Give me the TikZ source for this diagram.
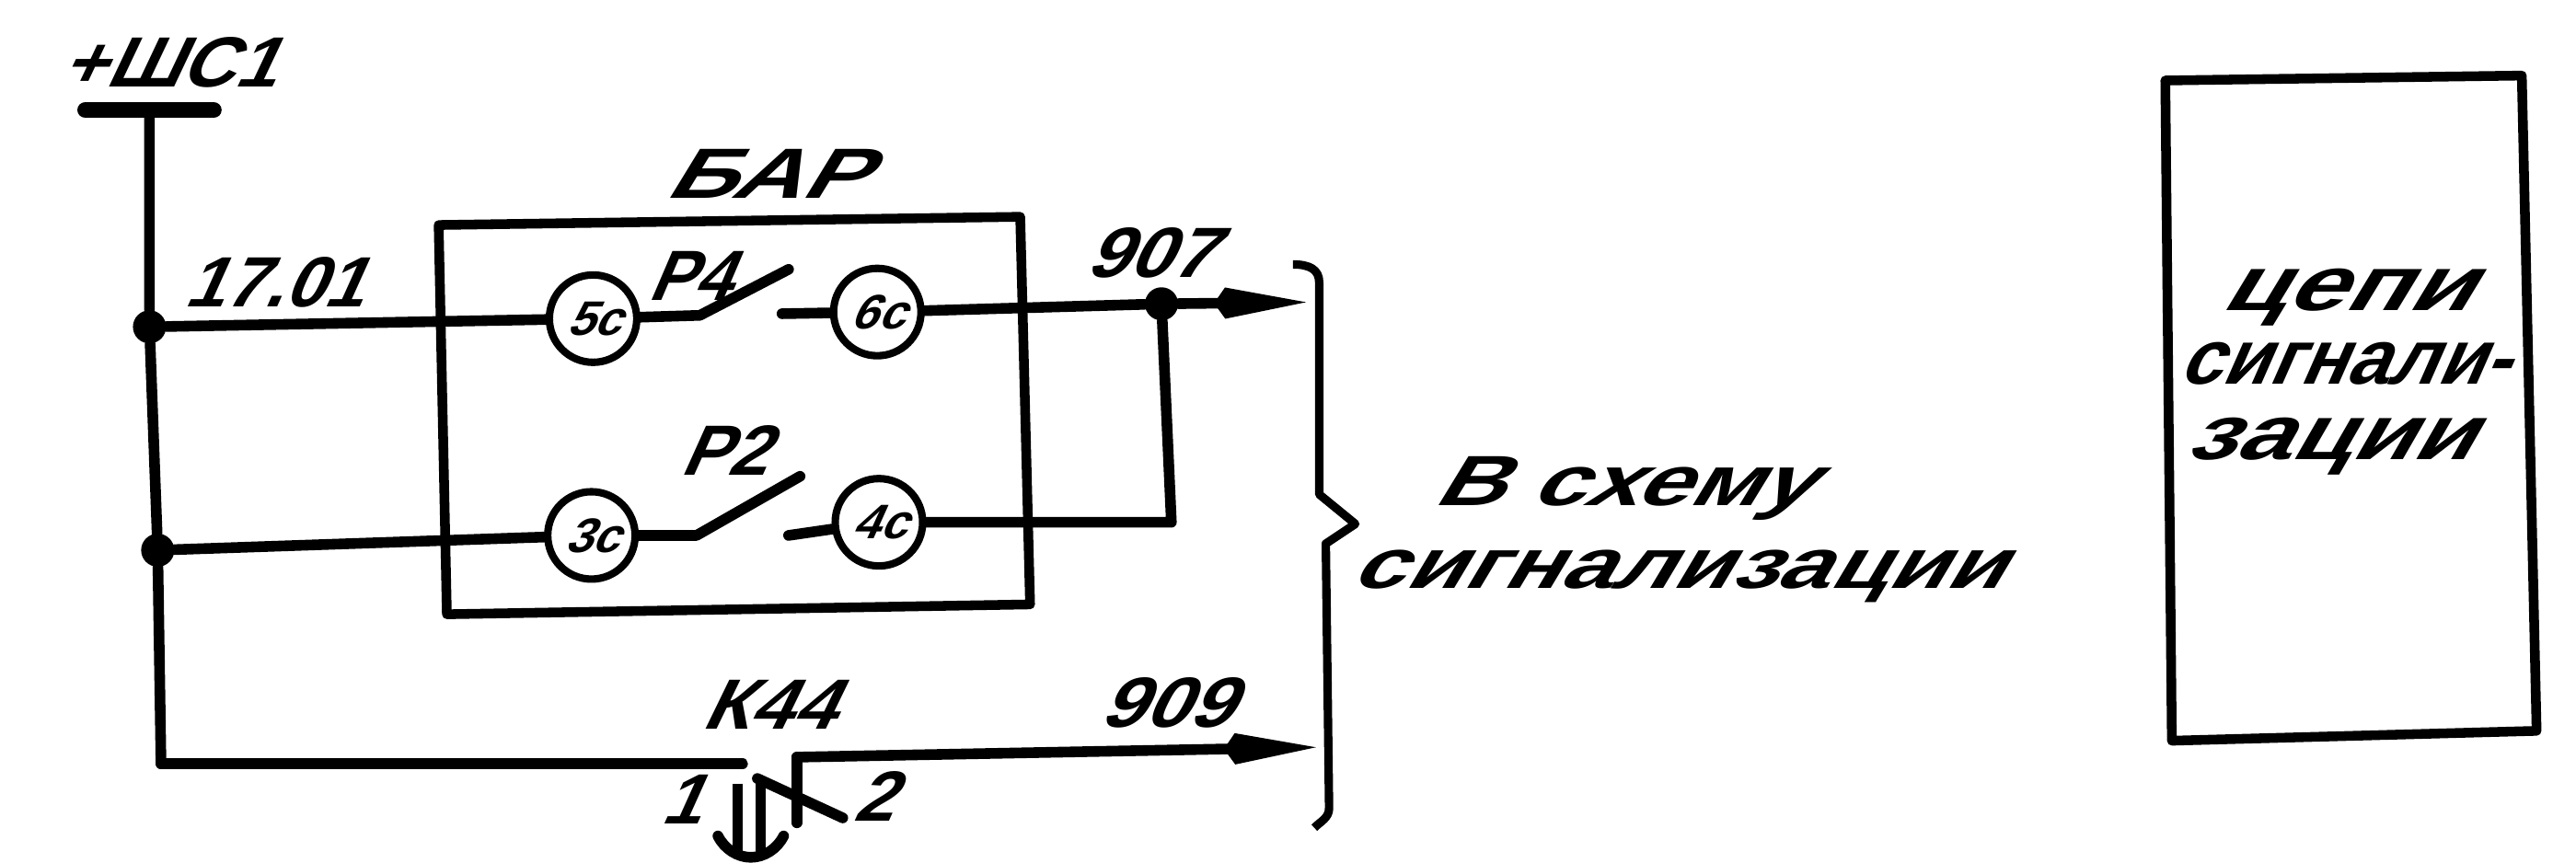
\documentclass[tikz,border=0pt]{standalone}
\usepackage{graphicx}
\usepackage{fontspec}
\setmainfont[FakeSlant=0.45]{Liberation Sans Bold}
\usetikzlibrary{arrows.meta}
\tikzstyle{wire}=[line width=3.3pt, line join=round, line cap=round]
\tikzstyle{frame}=[line width=3pt, line join=round]
\tikzstyle{sig}=[wire, -{Kite[length=1cm, width=0.34cm, inset=0.12cm]}]
\tikzstyle{pin}=[draw, circle, line width=2.3pt, minimum size=0.95cm, inner sep=0pt, font=\fontsize{15}{15}\selectfont]
\tikzstyle{joint}=[fill, circle, minimum size=0.36cm, inner sep=0pt]
\tikzstyle{lab}=[inner sep=0pt, font=\fontsize{22}{22}\selectfont]
\tikzstyle{note}=[inner sep=0pt, anchor=base, font=\fontsize{22}{22}\selectfont]
\tikzstyle{cell}=[note, font=\fontsize{24}{24}\selectfont]
\def\spread#1#2{\scalebox{#1}[1]{#2}}

\begin{document}
\begin{tikzpicture}[x=0.01785cm, y=-0.01785cm]
	\useasboundingbox (0,0) rectangle (1568,525);

	%bus and the two branches
	\coordinate (busl) at (52,67);
	\coordinate (busr) at (130,67);
	\coordinate (bus) at (91,67);
	\coordinate (low) at (98,465);
	\node (j1) [joint] at (91,199) {};
	\node (j2) [joint] at (96,335) {};
	\node (j3) [joint] at (707,185) {};
	\draw [line width=5pt, line cap=round] (busl) -- (busr);
	\draw [wire] (bus) -- (j1) -- (j2) -- (low);
	\node (shc) [lab] at (102,38) {\spread{1.05}{+ШС1}};

	%block
	\coordinate (b1) at (267,137);
	\coordinate (b2) at (621,132);
	\coordinate (b3) at (627,368);
	\coordinate (b4) at (272,374);
	\draw [frame] (b1) -- (b2) -- (b3) -- (b4) -- cycle;
	\node (bar) [lab] at (465,106) {\spread{1.36}{БАР}};

	\node (c5) [pin] at (361,194) {5с};
	\node (c6) [pin] at (534,190) {6с};
	\node (c3) [pin] at (360,326) {3с};
	\node (c4) [pin] at (535,318) {4с};

	%upper contact
	\coordinate (p4a) at (426,192);
	\coordinate (p4b) at (480,164);
	\coordinate (p4c) at (476,191);
	\draw [wire] (j1) -- (c5);
	\draw [wire] (c5) -- (p4a) -- (p4b);
	\draw [wire] (p4c) -- (c6);
	\draw [wire] (c6) -- (j3);
	\node (n1701) [lab] at (166,172) {17.01};
	\node (pf) [lab] at (419,168) {\spread{0.95}{Р4}};

	%lower contact
	\coordinate (p2a) at (424,326);
	\coordinate (p2b) at (487,290);
	\coordinate (p2c) at (480,326);
	\coordinate (ret) at (713,318);
	\draw [wire] (j2) -- (c3);
	\draw [wire] (c3) -- (p2a) -- (p2b);
	\draw [wire] (p2c) -- (c4);
	\draw [wire] (c4) -- (ret) -- (j3);
	\node (pt) [lab] at (440,274) {Р2};

	%outputs
	\coordinate (o1) at (795,184);
	\coordinate (k1) at (452,465);
	\coordinate (k2) at (485,461);
	\coordinate (o2) at (801,455);
	\draw [sig] (j3) -- (o1);
	\node (n907) [lab] at (699,154) {\spread{1.08}{907}};
	\draw [wire] (low) -- (k1);
	\draw [sig] (k2) -- (o2);
	\node (n909) [lab] at (709,428) {\spread{1.12}{909}};

	%contact of the relay
	\coordinate (k3) at (485,501);
	\coordinate (k4) at (461,474);
	\coordinate (k5) at (513,498);
	\coordinate (s1) at (449,477);
	\coordinate (s2) at (449,520);
	\coordinate (s3) at (463,474);
	\coordinate (s4) at (463,520);
	\draw [wire] (k3) -- (k2);
	\draw [wire] (k4) -- (k5);
	\draw [frame] (s1) -- (s2);
	\draw [frame] (s3) -- (s4);
	\draw [wire] (437,509) .. controls (441,517) and (449,522) .. (457,522)
		.. controls (465,522) and (473,517) .. (477,509);
	\node (k44) [lab] at (467,429) {\spread{1.08}{К44}};
	\node (k1l) [lab] at (414,487) {1};
	\node (k2l) [lab] at (531,485) {2};

	%brace
	\draw [line width=2.6pt, line join=round] (787,161) .. controls (797,161) and (803,164) .. (803,172)
		-- (803,301) -- (825,319) -- (807,331) -- (809,492) .. controls (809,498) and (804,500) .. (800,504);
	\node (to) [note] at (987,308) {\spread{1.36}{В схему}};
	\node (tob) [note] at (1020,358) {\spread{1.33}{сигнализации}};

	%right box
	\coordinate (r1) at (1318,49);
	\coordinate (r2) at (1535,46);
	\coordinate (r3) at (1544,445);
	\coordinate (r4) at (1322,451);
	\draw [frame] (r1) -- (r2) -- (r3) -- (r4) -- cycle;
	\node (ra) [cell] at (1427,189) {\spread{1.35}{цепи}};
	\node (rb) [cell] at (1426,234) {\spread{0.98}{сигнали-}};
	\node (rc) [cell] at (1417,280) {\spread{1.28}{зации}};
\end{tikzpicture}
\end{document}
